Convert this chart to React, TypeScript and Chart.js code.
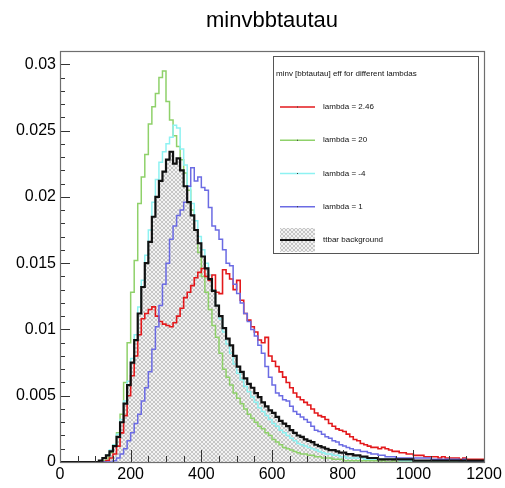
import { useEffect, useRef } from 'react';
import { Chart, registerables } from 'chart.js';

Chart.register(...registerables);

const FONT = '"Liberation Sans", Arial, Helvetica, sans-serif';
const TITLE = 'minvbbtautau';
const LEGEND_HEADER = 'minv [bbtautau] eff for different lambdas';

const X_MIN = 0;
const X_MAX = 1200;
const Y_MIN = 0;
const Y_MAX = 0.031;
const BIN_WIDTH = 10;
const X_TICK_STEP = 200;
const X_MINOR_STEP = 50;
const Y_TICK_STEP = 0.005;
const Y_MINOR_STEP = 0.001;

const SERIES_LABELS = ['lambda = 2.46', 'lambda = 20', 'lambda = -4', 'lambda = 1', 'ttbar background'];
const SERIES_COLORS = ['#e3191c', '#8fd16a', '#8ef2f2', '#6b6be3', '#111111'];

// bin contents, bins of width 10 starting at 0 (120 bins up to 1200)
const lambda246 = [
  0, 0, 0, 0, 0, 0, 0, 0, 0, 0,
  0, 0, 0, 0.0001, 0.0003, 0.0006, 0.0012, 0.0022, 0.0035, 0.005,
  0.0065, 0.008, 0.0096, 0.0108, 0.0112, 0.0115, 0.0117, 0.011, 0.0106, 0.0104,
  0.0103, 0.0102, 0.0105, 0.011, 0.0116, 0.0124, 0.0128, 0.0133, 0.0139, 0.0143,
  0.0146, 0.014, 0.0137, 0.0141, 0.0128, 0.0127, 0.0145, 0.0142, 0.0138, 0.013,
  0.0137, 0.0122, 0.0112, 0.0107, 0.0102, 0.0098, 0.0092, 0.009, 0.0094, 0.008,
  0.0076, 0.0072, 0.0068, 0.0064, 0.006, 0.0056, 0.0052, 0.0049, 0.0047, 0.0045,
  0.0043, 0.004, 0.0037, 0.0035, 0.0034, 0.0032, 0.0029, 0.0027, 0.0025, 0.0024,
  0.0023, 0.0021, 0.0019, 0.0017, 0.0016, 0.0014, 0.0013, 0.0012, 0.0011, 0.0011,
  0.001, 0.0011, 0.001, 0.0009, 0.0008, 0.0008, 0.0007, 0.0007, 0.0006, 0.0006,
  0.0005, 0.0005, 0.0005, 0.0004, 0.0004, 0.0004, 0.0004, 0.0003, 0.0004, 0.0003,
  0.0003, 0.0003, 0.0003, 0.0002, 0.0003, 0.0002, 0.0002, 0.0002, 0.0002, 0.0002,
];

const lambda20 = [
  0, 0, 0, 0, 0, 0, 0, 0, 0, 0,
  0, 0, 0.0001, 0.0003, 0.0007, 0.0013, 0.0022, 0.0036, 0.006, 0.009,
  0.0128, 0.0152, 0.0195, 0.0215, 0.0232, 0.0255, 0.0268, 0.0278, 0.029, 0.0295,
  0.0272, 0.0258, 0.0246, 0.0238, 0.0228, 0.0218, 0.0205, 0.019, 0.0175, 0.0158,
  0.014, 0.0128, 0.0115, 0.0103, 0.0094, 0.0082, 0.007, 0.0064, 0.0058, 0.0052,
  0.0048, 0.0044, 0.004, 0.0036, 0.0033, 0.003, 0.0027, 0.0025, 0.0022, 0.002,
  0.0017, 0.0015, 0.0013, 0.0011, 0.001, 0.0009, 0.0008, 0.0007, 0.0006, 0.0006,
  0.0005, 0.0005, 0.0004, 0.0004, 0.0003, 0.0003, 0.0003, 0.0002, 0.0002, 0.0002,
  0.0001, 0.0001, 0.0001, 0.0001, 0.0001, 0.0001, 0.0001, 0.0001, 0.0001, 0.0001,
  0, 0.0001, 0, 0, 0.0001, 0, 0, 0, 0, 0,
  0, 0, 0, 0, 0, 0, 0, 0, 0, 0,
  0, 0, 0, 0, 0, 0, 0, 0, 0, 0,
];

const lambdaMinus4 = [
  0, 0, 0, 0, 0, 0, 0, 0, 0, 0,
  0, 0.0001, 0.0003, 0.0005, 0.0009, 0.0013, 0.0021, 0.0032, 0.0046, 0.0061,
  0.0078, 0.0096, 0.0117, 0.0137, 0.0156, 0.0175, 0.0196, 0.0213, 0.0226, 0.0234,
  0.024, 0.0245, 0.0254, 0.0252, 0.0236, 0.0224, 0.0208, 0.0195, 0.0182, 0.017,
  0.016, 0.015, 0.0141, 0.013, 0.0118, 0.0108, 0.0098, 0.0089, 0.0082, 0.0074,
  0.0067, 0.0062, 0.0057, 0.0053, 0.0049, 0.0045, 0.0041, 0.0038, 0.0035, 0.0032,
  0.0029, 0.0027, 0.0024, 0.0022, 0.002, 0.0018, 0.0016, 0.0014, 0.0013, 0.0012,
  0.0011, 0.001, 0.0009, 0.0008, 0.0007, 0.0006, 0.0006, 0.0005, 0.0005, 0.0004,
  0.0004, 0.0003, 0.0003, 0.0003, 0.0003, 0.0003, 0.0002, 0.0002, 0.0002, 0.0002,
  0.0002, 0.0002, 0.0002, 0.0002, 0.0002, 0.0002, 0.0001, 0.0001, 0.0001, 0.0001,
  0.0001, 0.0001, 0.0001, 0.0001, 0.0001, 0.0001, 0.0001, 0.0001, 0.0001, 0.0001,
  0.0001, 0.0001, 0.0001, 0.0001, 0.0001, 0.0001, 0.0001, 0.0001, 0.0001, 0.0001,
];

const lambda1 = [
  0, 0, 0, 0, 0, 0, 0, 0, 0, 0,
  0, 0, 0, 0, 0, 0.0001, 0.0003, 0.0006, 0.001, 0.0016,
  0.0022, 0.0029, 0.0036, 0.0046, 0.0056, 0.0068, 0.0085, 0.0102, 0.0118, 0.0134,
  0.015, 0.0168, 0.0178, 0.0186, 0.019, 0.0196, 0.0208, 0.0222, 0.0212, 0.0215,
  0.0207, 0.0205, 0.0192, 0.0178, 0.0175, 0.0168, 0.016, 0.015, 0.0148, 0.0134,
  0.0127, 0.012, 0.0112, 0.0106, 0.01, 0.0095, 0.0088, 0.0082, 0.0072, 0.0064,
  0.0058, 0.0052, 0.005, 0.0047, 0.0046, 0.0042, 0.0038, 0.0036, 0.0034, 0.0032,
  0.003, 0.0027, 0.0024, 0.0023, 0.0021, 0.0019, 0.0018, 0.0016, 0.0015, 0.0013,
  0.0012, 0.0011, 0.001, 0.0009, 0.0009, 0.0008, 0.0008, 0.0007, 0.0006, 0.0006,
  0.0005, 0.0005, 0.0004, 0.0004, 0.0004, 0.0003, 0.0003, 0.0003, 0.0003, 0.0003,
  0.0003, 0.0003, 0.0003, 0.0003, 0.0003, 0.0002, 0.0002, 0.0002, 0.0002, 0.0002,
  0.0002, 0.0002, 0.0002, 0.0001, 0.0002, 0.0001, 0.0001, 0.0001, 0.0001, 0.0001,
];

const ttbar = [
  0, 0, 0, 0, 0, 0, 0, 0, 0, 0,
  0, 0.0001, 0.0003, 0.0005, 0.0008, 0.0012, 0.0019, 0.003, 0.0044, 0.0058,
  0.0075, 0.0092, 0.0112, 0.0132, 0.015, 0.0166, 0.0185, 0.02, 0.0212, 0.0219,
  0.0228, 0.0234, 0.0225, 0.0229, 0.022, 0.0208, 0.0196, 0.0186, 0.0175, 0.0165,
  0.0155, 0.0146, 0.0138, 0.0129, 0.0118, 0.011, 0.0101, 0.0093, 0.0088, 0.008,
  0.0072, 0.0068, 0.0063, 0.0059, 0.0056, 0.0052, 0.0049, 0.0045, 0.0042, 0.0039,
  0.0037, 0.0034, 0.0031, 0.0029, 0.0027, 0.0024, 0.0022, 0.002, 0.0019, 0.0017,
  0.0016, 0.0015, 0.0013, 0.0012, 0.0011, 0.001, 0.0009, 0.0009, 0.0008, 0.0007,
  0.0007, 0.0006, 0.0006, 0.0005, 0.0005, 0.0004, 0.0004, 0.0003, 0.0003, 0.0003,
  0.0002, 0.0002, 0.0002, 0.0002, 0.0002, 0.0002, 0.0002, 0.0002, 0.0002, 0.0002,
  0.0001, 0.0001, 0.0001, 0.0001, 0.0001, 0.0001, 0.0001, 0.0001, 0.0001, 0.0001,
  0.0001, 0.0001, 0.0001, 0.0001, 0.0001, 0.0001, 0.0001, 0.0001, 0.0001, 0.0001,
];

const SERIES = [lambda246, lambda20, lambdaMinus4, lambda1, ttbar];

function toSteps(values: number[]) {
  const pts = values.map((v, i) => ({ x: X_MIN + i * BIN_WIDTH, y: v }));
  pts.push({ x: X_MIN + values.length * BIN_WIDTH, y: values[values.length - 1] });
  return pts;
}

function makeHatch(): CanvasPattern | string {
  const c = document.createElement('canvas');
  c.width = 4;
  c.height = 4;
  const g = c.getContext('2d');
  if (!g) return '#dcdcdc';
  g.fillStyle = '#f3f3f3';
  g.fillRect(0, 0, 4, 4);
  g.fillStyle = '#c6c6c6';
  for (let i = 0; i < 4; i++) {
    g.fillRect(i, i, 1, 1);
    g.fillRect(3 - i, i, 1, 1);
  }
  return g.createPattern(c, 'repeat') || '#dcdcdc';
}

const LEGEND_BOX = { x1: 273, y1: 56, x2: 478, y2: 253 };

function rootStylePlugin(hatch: CanvasPattern | string) {
  return {
    id: 'rootStyle',
    afterDatasetsDraw(chart: any) {
      const { ctx, chartArea: ca, scales } = chart;
      const xs = scales.x;
      const ys = scales.y;
      ctx.save();
      ctx.strokeStyle = '#333';
      ctx.lineWidth = 1;
      ctx.beginPath();
      for (let v = X_MIN; v <= X_MAX + 1e-9; v += X_MINOR_STEP) {
        const px = Math.round(xs.getPixelForValue(v)) + 0.5;
        const major = Math.abs(v / X_TICK_STEP - Math.round(v / X_TICK_STEP)) < 1e-6;
        const len = major ? 12 : 6;
        ctx.moveTo(px, ca.bottom);
        ctx.lineTo(px, ca.bottom - len);
      }
      for (let k = 0; Y_MIN + k * Y_MINOR_STEP <= Y_MAX + 1e-9; k++) {
        const v = Y_MIN + k * Y_MINOR_STEP;
        const py = Math.round(ys.getPixelForValue(v)) + 0.5;
        const major = k % Math.round(Y_TICK_STEP / Y_MINOR_STEP) === 0;
        const len = major ? 10 : 5;
        ctx.moveTo(ca.left, py);
        ctx.lineTo(ca.left + len, py);
      }
      ctx.stroke();
      ctx.strokeStyle = '#6e6e6e';
      ctx.lineWidth = 1.2;
      ctx.strokeRect(ca.left + 0.5, ca.top + 0.5, ca.right - ca.left, ca.bottom - ca.top);
      ctx.restore();
    },
    afterDraw(chart: any) {
      const { ctx, chartArea: ca } = chart;
      ctx.save();
      ctx.fillStyle = '#000';
      ctx.font = `22px ${FONT}`;
      ctx.textAlign = 'center';
      ctx.textBaseline = 'alphabetic';
      ctx.fillText(TITLE, (ca.left + ca.right) / 2, 26.5);

      const b = LEGEND_BOX;
      ctx.fillStyle = '#fff';
      ctx.fillRect(b.x1, b.y1, b.x2 - b.x1, b.y2 - b.y1);
      ctx.strokeStyle = '#555';
      ctx.lineWidth = 1;
      ctx.strokeRect(b.x1 + 0.5, b.y1 + 0.5, b.x2 - b.x1, b.y2 - b.y1);
      ctx.fillStyle = '#111';
      ctx.font = `8px ${FONT}`;
      ctx.textAlign = 'left';
      ctx.textBaseline = 'middle';
      ctx.fillText(LEGEND_HEADER, b.x1 + 3, b.y1 + 18);
      const lx1 = b.x1 + 7;
      const lx2 = b.x1 + 42;
      const tx = b.x1 + 50;
      SERIES_LABELS.forEach((label, i) => {
        const y = b.y1 + 51 + i * 33.25;
        if (i === SERIES_LABELS.length - 1) {
          ctx.fillStyle = hatch;
          ctx.fillRect(lx1, y - 12, lx2 - lx1, 24);
          ctx.strokeStyle = SERIES_COLORS[i];
          ctx.lineWidth = 2;
        } else {
          ctx.strokeStyle = SERIES_COLORS[i];
          ctx.lineWidth = 1.5;
        }
        ctx.beginPath();
        ctx.moveTo(lx1, y);
        ctx.lineTo(lx2, y);
        ctx.stroke();
        if (i < SERIES_LABELS.length - 1) {
          ctx.fillStyle = '#333';
          ctx.fillRect((lx1 + lx2) / 2 - 0.5, y - 0.5, 1, 1);
        }
        ctx.fillStyle = '#111';
        ctx.fillText(label, tx, y);
      });
      ctx.restore();
    },
  };
}

function fmt(v: number) {
  return parseFloat(Number(v).toFixed(4)).toString();
}

export default function App() {
  const ref = useRef<HTMLCanvasElement>(null);
  useEffect(() => {
    const canvas = ref.current;
    if (!canvas) return;
    const hatch = makeHatch();
    const lineDs = (i: number, order: number, width: number) => ({
      label: SERIES_LABELS[i],
      data: toSteps(SERIES[i]),
      borderColor: SERIES_COLORS[i],
      borderWidth: width,
      stepped: true,
      pointRadius: 0,
      fill: false,
      order,
    });
    const chart = new Chart(canvas, {
      type: 'line',
      data: {
        datasets: [
          {
            label: 'ttbar fill',
            data: toSteps(ttbar),
            borderWidth: 0,
            borderColor: 'rgba(0,0,0,0)',
            backgroundColor: hatch as any,
            stepped: true,
            pointRadius: 0,
            fill: 'origin',
            order: 10,
          },
          lineDs(1, 6, 1.5),
          lineDs(2, 5, 1.5),
          lineDs(0, 4, 1.6),
          lineDs(3, 3, 1.5),
          lineDs(4, 1, 2.2),
        ] as any,
      },
      options: {
        responsive: false,
        animation: false,
        devicePixelRatio: 1,
        layout: { padding: { top: 51, right: 21, left: 0, bottom: 0 } },
        plugins: {
          legend: { display: false },
          tooltip: { enabled: false },
          title: { display: false },
        },
        scales: {
          x: {
            type: 'linear',
            min: X_MIN,
            max: X_MAX,
            grid: { display: false, drawTicks: false },
            border: { display: false },
            ticks: {
              stepSize: X_TICK_STEP,
              includeBounds: false,
              autoSkip: false,
              maxRotation: 0,
              padding: 3,
              color: '#000',
              font: { size: 16, family: FONT },
              callback: (v: any) => fmt(v),
            },
            afterFit: (s: any) => {
              s.height = 26;
            },
          },
          y: {
            type: 'linear',
            min: Y_MIN,
            max: Y_MAX,
            grid: { display: false, drawTicks: false },
            border: { display: false },
            ticks: {
              stepSize: Y_TICK_STEP,
              includeBounds: false,
              padding: 4,
              color: '#000',
              font: { size: 16, family: FONT },
              callback: (v: any) => fmt(v),
            },
            afterFit: (s: any) => {
              s.width = 60;
            },
          },
        },
      } as any,
      plugins: [rootStylePlugin(hatch) as any],
    });
    return () => chart.destroy();
  }, []);
  return (
    <div style={{ position: 'absolute', left: 0, top: 0, width: 505, height: 488, background: '#fff' }}>
      <canvas ref={ref} width={505} height={488} style={{ display: 'block' }} />
    </div>
  );
}
